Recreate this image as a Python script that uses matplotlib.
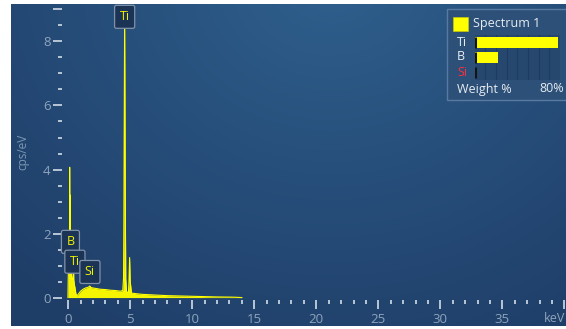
import numpy as np
import matplotlib
matplotlib.use("Agg")
import matplotlib.pyplot as plt
from matplotlib.patches import Rectangle
from matplotlib.ticker import MultipleLocator, FixedLocator

plt.rcParams['font.family'] = ['Open Sans', 'DejaVu Sans']

# EDS spectrum (energy in keV, intensity in cps/eV)
energy = [-0.02, 0.00, 0.03, 0.06, 0.08, 0.10, 0.12, 0.14, 0.16, 0.18, 0.22, 0.26,
          0.30, 0.35, 0.39, 0.42, 0.45, 0.50, 0.55, 0.62, 0.70, 0.80, 0.90, 1.00,
          1.20, 1.40, 1.60, 1.74, 1.85, 2.00, 2.30, 2.60, 3.00, 3.40, 3.80, 4.20,
          4.40, 4.46, 4.49, 4.55, 4.61, 4.64, 4.70, 4.85, 4.90, 4.95, 5.00, 5.10,
          5.50, 6.00, 7.00, 8.00, 9.00, 10.0, 11.0, 12.0, 13.0, 13.5, 14.0]
counts = [0.00, 0.60, 0.95, 1.50, 1.00, 1.20, 4.07, 1.30, 3.20, 1.00, 0.90, 0.70,
          0.60, 0.55, 0.60, 1.12, 0.55, 0.40, 0.30, 0.12, 0.05, 0.10, 0.15, 0.20,
          0.26, 0.30, 0.32, 0.36, 0.31, 0.30, 0.28, 0.26, 0.25, 0.23, 0.22, 0.20,
          0.22, 0.60, 2.50, 8.80, 2.50, 0.60, 0.20, 0.12, 0.50, 1.25, 0.50, 0.14,
          0.12, 0.10, 0.08, 0.06, 0.05, 0.04, 0.03, 0.02, 0.015, 0.01, 0.00]

# Peak identification labels
peak_labels = ["Ti", "B", "Ti", "Si"]
peak_label_x = [4.55, 0.18, 0.54, 1.75]
peak_label_y = [8.77, 1.74, 1.12, 0.80]

# Quantification summary
elements = ["Ti", "B", "Si"]
weights = [77.8, 21.7, 0.5]
element_colors = ["#e8eef4", "#e8eef4", "#ff2f40"]

x_major = [0, 5, 10, 15, 20, 25, 30, 35, 40]
x_major_labels = ["0", "5", "10", "15", "20", "25", "30", "35", ""]
y_major = [0, 2, 4, 6, 8, 9]
y_major_labels = ["0", "2", "4", "6", "8", ""]

W, H = 566, 329
fig = plt.figure(figsize=(W / 100, H / 100), dpi=100)
fig.patch.set_facecolor("white")

# --- dark blue panel with a soft radial glow near the top
bg = fig.add_axes([11 / W, 1 - 326 / H, (W - 11) / W, 322 / H])
bg.set_axis_off()
ny, nx = 322, 555
yy, xx = np.mgrid[0:ny, 0:nx]
r = np.sqrt(((xx - 320) / 1.0) ** 2 + ((yy + 30) / 0.9) ** 2)
t = np.clip(r / 480.0, 0, 1) ** 0.9
c0 = np.array([0x30, 0x61, 0x8f]) / 255.0
c1 = np.array([0x1e, 0x3d, 0x67]) / 255.0
img = c0[None, None, :] * (1 - t[..., None]) + c1[None, None, :] * t[..., None]
bg.imshow(img, aspect="auto", extent=(0, nx, ny, 0))
bg.set_xlim(0, nx)
bg.set_ylim(ny, 0)

# quantification panel frame and swatch (panel pixel coordinates)
bg.add_patch(Rectangle((447 - 11, 9 - 4), 130, 91, fc="#2c5077", ec="#587aa0",
                       lw=1.0, zorder=2))
bg.add_patch(Rectangle((453 - 11, 17 - 4), 15, 14, fc="#ffff00", ec="#c8c800",
                       lw=0.5, zorder=3))

# --- spectrum axes
x0, x1 = 62, 566
y0, y1 = 4, 299.5
ax = fig.add_axes([x0 / W, 1 - y1 / H, (x1 - x0) / W, (y1 - y0) / H])
ax.patch.set_alpha(0)
ax.set_xlim(-0.5, 40.13)
ax.set_ylim(-0.06, 9.17)
for s in ax.spines.values():
    s.set_visible(False)

ax.fill_between(energy, 0, counts, color="#f5f500", lw=0, zorder=2)
ax.plot(energy, counts, color="#ffff00", lw=0.8, zorder=3)

tick_c = "#b9c7d6"
lab_c = "#8ea4bd"
ax.xaxis.set_major_locator(FixedLocator(x_major))
ax.set_xticklabels(x_major_labels)
ax.xaxis.set_minor_locator(MultipleLocator(1))
ax.yaxis.set_major_locator(FixedLocator(y_major))
ax.set_yticklabels(y_major_labels)
ax.yaxis.set_minor_locator(MultipleLocator(0.5))
ax.tick_params(axis="x", which="major", direction="out", length=6.5, width=1.4,
               color=tick_c, labelcolor=lab_c, labelsize=9.5, pad=3)
ax.tick_params(axis="x", which="minor", direction="out", length=3.1, width=1.4,
               color=tick_c)
ax.tick_params(axis="y", which="major", direction="out", length=6.8, width=1.4,
               color=tick_c, labelcolor=lab_c, labelsize=9.5, pad=1.5)
ax.tick_params(axis="y", which="minor", direction="out", length=2.9, width=1.4,
               color=tick_c)

fig.text(23 / W, 1 - 152 / H, "cps/eV", rotation=90, ha="center", va="center",
         color="#7e96b2", fontsize=8.5)
fig.text(565 / W, 1 - 318 / H, "keV", ha="right", va="center",
         color=lab_c, fontsize=9)

# peak labels
for name, px, py in zip(peak_labels, peak_label_x, peak_label_y):
    ax.text(px, py, name, ha="center", va="center", color="#f2f200",
            fontsize=9, zorder=5,
            bbox=dict(boxstyle="round,pad=0.4,rounding_size=0.15",
                      fc="#1b3456", ec="#8191a8", lw=0.9))

# --- quantification text
fig.text(473 / W, 1 - 23.5 / H, "Spectrum 1", ha="left", va="center",
         color="#e6ecf2", fontsize=9)
fig.text(457 / W, 1 - 89 / H, "Weight %", ha="left", va="center",
         color="#e6ecf2", fontsize=9)
fig.text(564 / W, 1 - 89 / H, "80%", ha="right", va="center",
         color="#e6ecf2", fontsize=9)

bx = fig.add_axes([474.7 / W, 1 - 79.7 / H, (560 - 474.7) / W, 45 / H])
bx.set_zorder(5)
bx.set_xlim(0, 80)
bx.set_ylim(2.5, -0.5)
bx.set_facecolor("#26476e")
for s in bx.spines.values():
    s.set_visible(False)
bx.set_xticks([])
bx.set_yticks([])
for g in range(10, 80, 10):
    bx.axvline(g, color="#1f3b60", lw=0.8, zorder=0)
rows = np.arange(len(elements))
bx.barh(rows, weights, height=0.71, color="#ffff00", lw=0, zorder=2)
bx.vlines(np.zeros(len(rows)), rows - 0.355, rows + 0.355, color="#141414",
          lw=2.2, zorder=3)
for i, (el, col) in enumerate(zip(elements, element_colors)):
    yp = 42 + 15 * i
    fig.text(457 / W, 1 - yp / H, el, ha="left", va="center", color=col,
             fontsize=9, zorder=6)

fig.savefig("out.png", dpi=100)
